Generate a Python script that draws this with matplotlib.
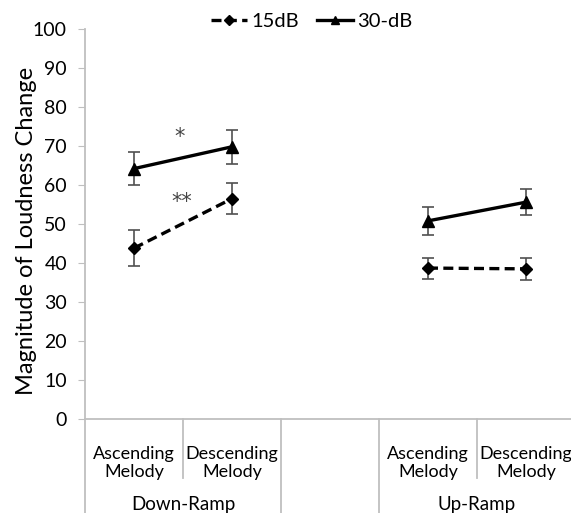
import matplotlib.pyplot as plt
import matplotlib.transforms as mtransforms
import numpy as np

plt.rcParams['font.family'] = ['Lato', 'DejaVu Sans']

# data
conditions = ["Ascending\nMelody", "Descending\nMelody", "", "Ascending\nMelody", "Descending\nMelody"]
groups = ["Down-Ramp", "Up-Ramp"]
db15 = [43.8, 56.5, np.nan, 38.7, 38.5]
db15_err = [4.6, 3.9, np.nan, 2.7, 2.8]
db30 = [64.2, 69.8, np.nan, 50.8, 55.6]
db30_err = [4.2, 4.4, np.nan, 3.6, 3.3]
stars = [("*", 0.47, 72.3), ("**", 0.49, 55.6)]

axis_grey = "#bfbfbf"
x = np.arange(len(conditions))

fig = plt.figure(figsize=(5.71, 5.13), dpi=100)
ax = fig.add_axes([85 / 571, 94 / 513, 490 / 571, 390 / 513])

# lines only within each ramp group
for seg in [slice(0, 2), slice(3, 5)]:
    ax.errorbar(x[seg], db15[seg], yerr=db15_err[seg], color="black", linestyle="--", linewidth=2.4,
                dashes=(3, 1.6), marker="D", markersize=6.5, ecolor="#505050", elinewidth=1.2, capsize=4, capthick=1.2)
    ax.errorbar(x[seg], db30[seg], yerr=db30_err[seg], color="black", linestyle="-", linewidth=2.4,
                marker="^", markersize=8, ecolor="#505050", elinewidth=1.2, capsize=4, capthick=1.2)

for s, sx, sy in stars:
    ax.text(sx, sy, s, ha="center", va="center", fontsize=15, color="#444444", family="DejaVu Sans")

ax.set_xlim(-0.5, 4.5)
ax.set_ylim(0, 100)
ax.set_yticks(range(0, 101, 10))
ax.tick_params(axis="y", length=5, color=axis_grey, labelsize=14, pad=8)
ax.set_xticks([])
ax.set_ylabel("Magnitude of Loudness Change", fontsize=17)
ax.yaxis.set_label_coords(-0.098, 0.482)

for side in ["top", "right"]:
    ax.spines[side].set_visible(False)
for side in ["left", "bottom"]:
    ax.spines[side].set_color(axis_grey)
    ax.spines[side].set_linewidth(1.3)

# category axis in the Excel style: labels with separators below the axis
trans = mtransforms.blended_transform_factory(ax.transData, ax.transAxes)
for i, lab in enumerate(conditions):
    if lab:
        ax.text(x[i], -0.112, lab, transform=trans, ha="center", va="center",
                fontsize=13, linespacing=1.15, clip_on=False)
for sep in [0.5, 3.5]:
    ax.plot([sep, sep], [0, -0.152], transform=trans, color=axis_grey, linewidth=1.3, clip_on=False)
for sep in [-0.5, 1.5, 2.5, 4.5]:
    ax.plot([sep, sep], [0, -0.26], transform=trans, color=axis_grey, linewidth=1.3, clip_on=False)
for gx, g in zip([0.5, 3.5], groups):
    ax.text(gx, -0.218, g, transform=trans, ha="center", va="center", fontsize=13.5, clip_on=False)

h15 = plt.Line2D([], [], color="black", linestyle="--", dashes=(3, 1.6), linewidth=2.4, marker="D", markersize=5)
h30 = plt.Line2D([], [], color="black", linestyle="-", linewidth=2.4, marker="^", markersize=6)
fig.legend([h15, h30], ["15dB", "30-dB"], loc="center", bbox_to_anchor=(312 / 571, 1 - 21 / 513),
           ncol=2, frameon=False, fontsize=14.5, handlelength=1.8, handletextpad=0.2, columnspacing=0.9)

fig.savefig("out.png", dpi=100)
